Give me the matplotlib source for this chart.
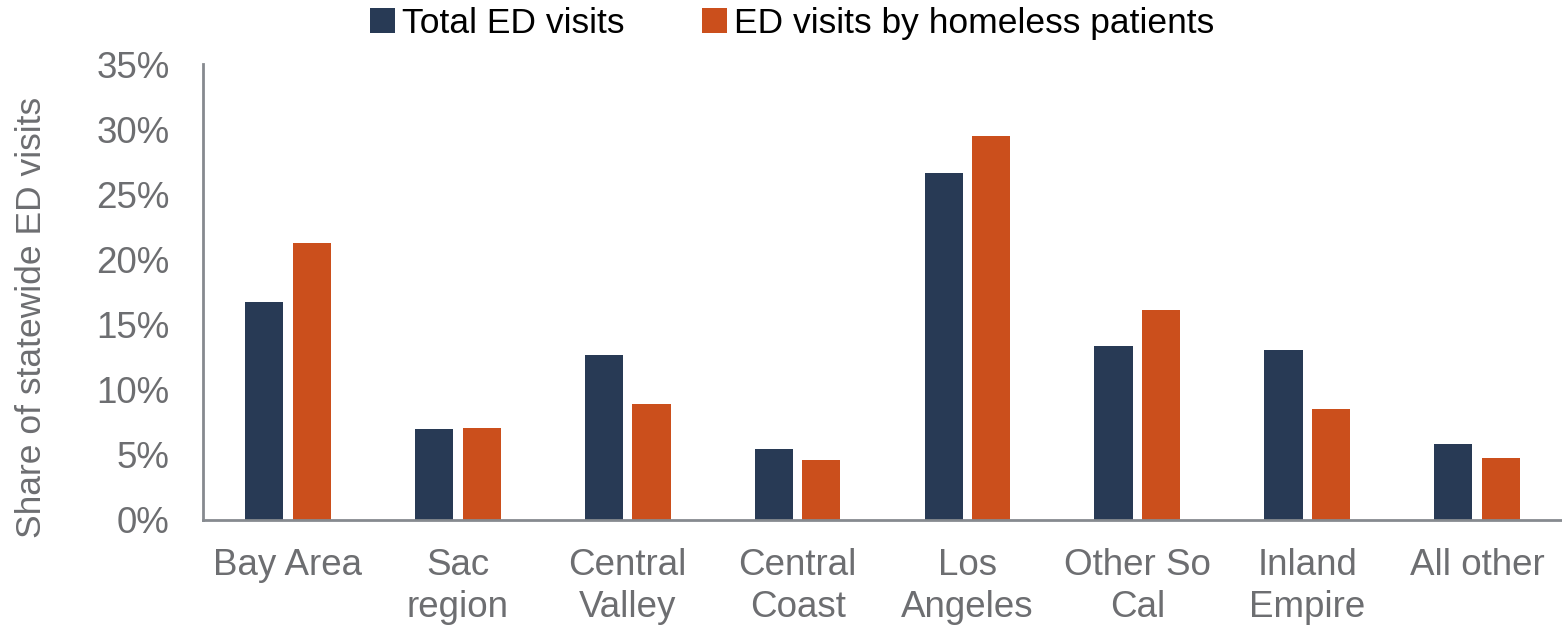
import matplotlib
matplotlib.use("Agg")
import matplotlib.pyplot as plt
import numpy as np

regions = ["Bay Area", "Sac\nregion", "Central\nValley", "Central\nCoast",
           "Los\nAngeles", "Other So\nCal", "Inland\nEmpire", "All other"]
total_ed = [16.7, 7.0, 12.7, 5.45, 26.6, 13.35, 13.05, 5.8]
homeless_ed = [21.3, 7.05, 8.9, 4.6, 29.5, 16.1, 8.5, 4.75]

navy = "#283A55"
orange = "#CB4F1C"
grey = "#6D6E71"

plt.rcParams['font.family'] = ['Liberation Sans', 'DejaVu Sans']

fig = plt.figure(figsize=(15.62, 6.28), dpi=100)
ax = fig.add_axes([0.13, 0.172, 0.87, 0.726])

x = np.arange(len(regions))
w = 0.225
ax.bar(x - 0.14, total_ed, w, color=navy, label="Total ED visits")
ax.bar(x + 0.14, homeless_ed, w, color=orange, label="ED visits by homeless patients")

ax.set_xlim(-0.5, len(regions) - 0.5)
ax.set_ylim(0, 35)
ax.set_yticks(range(0, 36, 5))
ax.set_yticklabels([f"{v}%" for v in range(0, 36, 5)])
ax.set_xticks(x)
ax.set_xticklabels(regions, linespacing=1.27)
ax.tick_params(axis="both", length=0, labelsize=26.5, colors=grey)
ax.tick_params(axis="x", pad=20)
ax.tick_params(axis="y", pad=24)
ax.set_ylabel("Share of statewide ED visits", fontsize=25.5, color=grey)
ax.yaxis.set_label_coords(-0.114, 0.445)

for s in ["top", "right"]:
    ax.spines[s].set_visible(False)
for s in ["left", "bottom"]:
    ax.spines[s].set_color("#868A8F")
    ax.spines[s].set_linewidth(2)

fig.legend(loc="center", bbox_to_anchor=(0.507, 0.963), ncol=2, frameon=False,
           fontsize=25.5, handlelength=0.7, handleheight=0.7, handletextpad=0.2,
           columnspacing=2.2, labelcolor="black")

fig.savefig("out.png", dpi=100)
